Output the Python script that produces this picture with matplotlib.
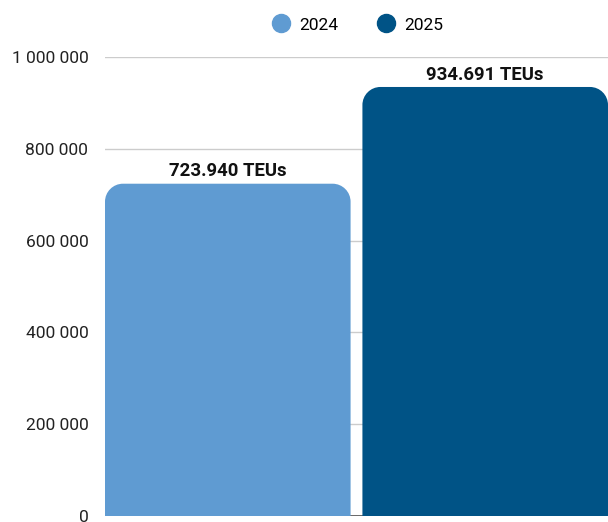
import matplotlib
matplotlib.use("Agg")
import matplotlib.pyplot as plt
from matplotlib.path import Path
from matplotlib.patches import PathPatch
from matplotlib.lines import Line2D
from matplotlib.ticker import FuncFormatter

plt.rcParams['font.family'] = ['Roboto', 'DejaVu Sans']

years = ["2024", "2025"]
teus = [723940, 934691]
labels = ["723.940 TEUs", "934.691 TEUs"]
colors = ["#5f9bd2", "#005386"]

W, H = 608, 522
fig = plt.figure(figsize=(W / 100, H / 100), dpi=100)
left, bottom, top, right = 105, 6, 57, 608
ax = fig.add_axes([left / W, bottom / H, (right - left) / W, (H - top - bottom) / H])

width = 0.954
x0, x1 = -width / 2, 1 + width / 2
ax.set_xlim(x0, x1)
ax.set_ylim(0, 1000000)

# pixels per data unit, used to keep the corners circular
sx = (right - left) / (x1 - x0)
sy = (H - top - bottom) / 1000000
r = 18
rx, ry = r / sx, r / sy
k = 0.5523


def rounded_bar(xc, h, color):
    a, b = xc - width / 2, xc + width / 2
    verts = [(a, 0), (a, h - ry),
             (a, h - ry + k * ry), (a + rx - k * rx, h), (a + rx, h),
             (b - rx, h),
             (b - rx + k * rx, h), (b, h - ry + k * ry), (b, h - ry),
             (b, 0), (a, 0)]
    codes = [Path.MOVETO, Path.LINETO,
             Path.CURVE4, Path.CURVE4, Path.CURVE4,
             Path.LINETO,
             Path.CURVE4, Path.CURVE4, Path.CURVE4,
             Path.LINETO, Path.CLOSEPOLY]
    ax.add_patch(PathPatch(Path(verts, codes), facecolor=color, edgecolor="none", zorder=3))


for i, v in enumerate(teus):
    rounded_bar(i, v, colors[i])
    ax.annotate(labels[i], (i, v), xytext=(0, 2.5), textcoords="offset points",
                ha="center", va="bottom", fontsize=13.4, fontweight="bold", color="#111111")

ax.set_yticks(range(0, 1000001, 200000))
ax.yaxis.set_major_formatter(FuncFormatter(lambda v, p: f"{int(v):,}".replace(",", " ")))
ax.tick_params(axis="y", length=0, pad=12, labelsize=12.5, labelcolor="#222222")
ax.set_xticks([])
ax.grid(axis="y", color="#cccccc", lw=1, zorder=0)
ax.axhline(0, color="#333333", lw=1.2, zorder=1)
for s in ax.spines.values():
    s.set_visible(False)

handles = [Line2D([], [], marker="o", ls="none", markersize=13, color=c) for c in colors]
ax.legend(handles, years, loc="center", bbox_to_anchor=((left + right) / 2 / W - 0.005, 1 - 25 / H),
          bbox_transform=fig.transFigure, ncol=2, frameon=False, fontsize=12.5,
          handletextpad=0.05, columnspacing=1.7)

fig.savefig("out.png", dpi=100)
